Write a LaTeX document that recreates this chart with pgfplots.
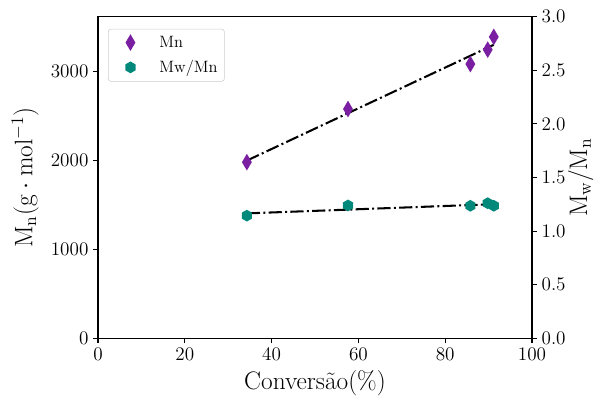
\RequirePackage{fix-cm}
\documentclass[border=0pt]{standalone}
\usepackage{fontspec}
\usepackage{pgfplots}
\pgfplotsset{compat=1.18}

\definecolor{mnpurple}{HTML}{7B1FA2}
\definecolor{mwteal}{HTML}{00897B}

% matplotlib-like markers: thin diamond and pointy-top hexagon
\pgfdeclareplotmark{thindiamond}{%
  \pgfpathmoveto{\pgfqpoint{0pt}{1.7\pgfplotmarksize}}%
  \pgfpathlineto{\pgfqpoint{\pgfplotmarksize}{0pt}}%
  \pgfpathlineto{\pgfqpoint{0pt}{-1.7\pgfplotmarksize}}%
  \pgfpathlineto{\pgfqpoint{-\pgfplotmarksize}{0pt}}%
  \pgfpathclose\pgfusepathqfill}
\pgfdeclareplotmark{hexagon}{%
  \pgfpathmoveto{\pgfqpointpolar{90}{\pgfplotmarksize}}%
  \pgfpathlineto{\pgfqpointpolar{150}{\pgfplotmarksize}}%
  \pgfpathlineto{\pgfqpointpolar{210}{\pgfplotmarksize}}%
  \pgfpathlineto{\pgfqpointpolar{270}{\pgfplotmarksize}}%
  \pgfpathlineto{\pgfqpointpolar{330}{\pgfplotmarksize}}%
  \pgfpathlineto{\pgfqpointpolar{30}{\pgfplotmarksize}}%
  \pgfpathclose\pgfusepathqfill}

\pgfplotsset{
  common/.style={
    scale only axis, width=317pt, height=235pt,
    xmin=0, xmax=100,
    tick align=outside, major tick length=3.5pt,
    axis line style={line width=0.8pt},
    tick style={line width=0.8pt, black},
    tick label style={font=\fontsize{14}{16}\selectfont},
    /pgf/number format/assume math mode=true,
    label style={font=\fontsize{18.5}{22}\selectfont},
  },
  fit/.style={black, line width=1.5pt, dash pattern=on 9.6pt off 2.4pt on 1.5pt off 2.4pt},
}

\begin{document}
\begin{tikzpicture}
\begin{axis}[
  common,
  ymin=0, ymax=3620,
  xtick={0,20,40,60,80,100},
  ytick={0,1000,2000,3000},
  xtick pos=bottom, ytick pos=left,
  scaled y ticks=false,
  yticklabel style={/pgf/number format/set thousands separator={}},
  xlabel={Convers\~ao(\%)},
  ylabel={$\mathrm{M_n(g\cdot mol^{-1})}$},
  ylabel style={yshift=2pt},
]
\addplot[only marks, mark=thindiamond, mark size=3.6pt, color=mnpurple] coordinates {
  (34.3,1982) (57.6,2580) (85.8,3086) (89.8,3248) (91.2,3392)
};
\addplot[fit] coordinates {(34.3,2000) (91.2,3303)};
\end{axis}
\begin{axis}[
  common,
  axis x line=none,
  axis y line*=right,
  ymin=0, ymax=3.0,
  ytick={0,0.5,1.0,1.5,2.0,2.5,3.0},
  yticklabel style={/pgf/number format/.cd, fixed, fixed zerofill, precision=1},
  ylabel={$\mathrm{M_w/M_n}$},
  ylabel style={yshift=5pt},
  legend style={at={(0.023,0.962)}, anchor=north west, draw=black!20, rounded corners=2pt,
    font=\fontsize{12}{15}\selectfont, row sep=4pt, inner sep=3pt},
  legend cell align=left,
  legend image code/.code={\path (0pt,0pt) (32pt,0pt);
    \draw plot coordinates {(13pt,0pt)};},
]
\addlegendimage{only marks, mark=thindiamond, mark size=3.6pt, color=mnpurple}
\addlegendentry{Mn}
\addplot[only marks, mark=hexagon, mark size=4.3pt, color=mwteal] coordinates {
  (34.3,1.144) (57.6,1.239) (85.8,1.236) (89.8,1.260) (91.2,1.236)
};
\addlegendentry{Mw/Mn}
\addplot[fit, forget plot] coordinates {(34.3,1.165) (91.2,1.251)};
\end{axis}
% outer padding like the reference's margins
\path ([xshift=-5pt,yshift=4pt]current bounding box.north west);
\path ([yshift=-3pt]current bounding box.south);
\end{tikzpicture}
\end{document}
